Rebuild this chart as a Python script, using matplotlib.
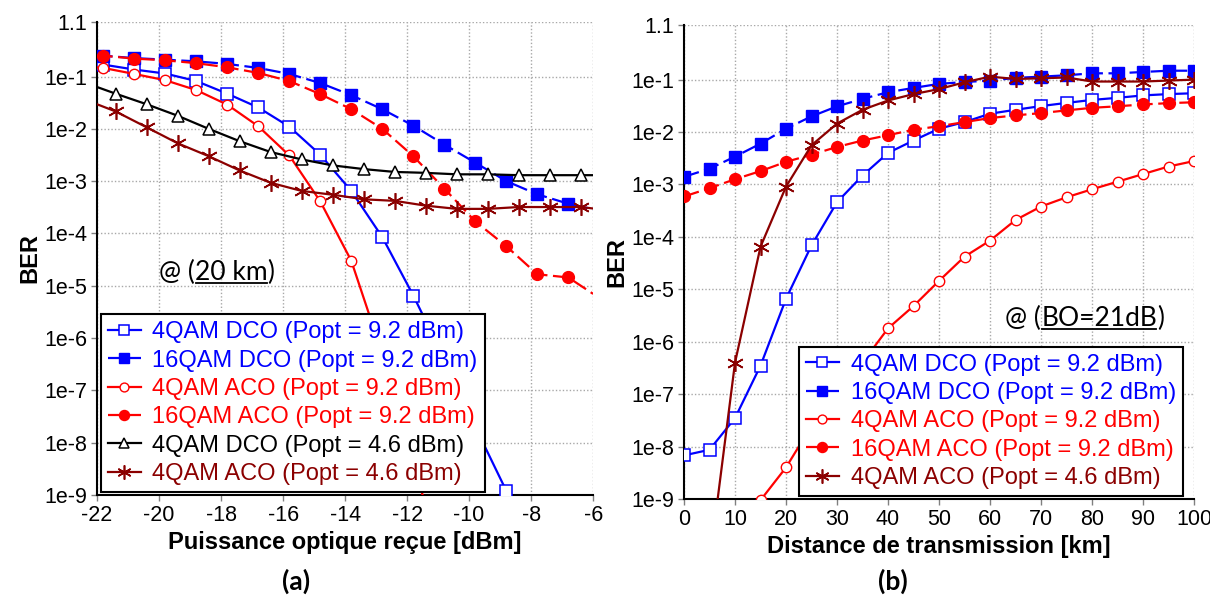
import matplotlib
matplotlib.use("Agg")
import matplotlib.pyplot as plt
from matplotlib.ticker import FixedLocator, FixedFormatter, NullLocator
from matplotlib.lines import Line2D

plt.rcParams['font.family'] = ['Liberation Sans', 'DejaVu Sans']

# ---------------- data : panel (a) ----------------
x_a_92 = [-22, -21.8, -20.8, -19.8, -18.8, -17.8, -16.8, -15.8, -14.8, -13.8,
          -12.8, -11.8, -10.8, -9.8, -8.8, -7.8, -6.8, -6]
y_a_16dco = [0.25, 0.25, 0.225, 0.21, 0.195, 0.174, 0.146, 0.112, 0.075, 0.044,
             0.0237, 0.0115, 0.005, 2.25e-3, 1.0e-3, 5.6e-4, 3.7e-4, 2.9e-4]
y_a_16aco = [0.25, 0.25, 0.22, 0.204, 0.18, 0.15, 0.117, 0.082, 0.046, 0.0237,
             0.01, 3.0e-3, 7.2e-4, 1.7e-4, 5.7e-5, 1.66e-5, 1.44e-5, 7e-6]
x_a_4dco = [-22, -21.8, -20.8, -19.8, -18.8, -17.8, -16.8, -15.8, -14.8, -13.8,
            -12.8, -11.8, -10.8, -9.8, -8.8, -7.8]
y_a_4dco = [0.17, 0.169, 0.136, 0.114, 0.082, 0.047, 0.0256, 0.011, 3.2e-3, 6.5e-4,
            8.5e-5, 6.5e-6, 4e-7, 2e-8, 1.2e-9, 8e-11]
x_a_4aco = [-22, -21.8, -20.8, -19.8, -18.8, -17.8, -16.8, -15.8, -14.8, -13.8,
            -12.8, -11.8, -10.8]
y_a_4aco = [0.15, 0.146, 0.112, 0.085, 0.055, 0.029, 0.0112, 3.1e-3, 4.1e-4, 3.0e-5,
            5e-7, 4e-9, 4e-11]
x_a_46 = [-22, -21.4, -20.4, -19.4, -18.4, -17.4, -16.4, -15.4, -14.4, -13.4,
          -12.4, -11.4, -10.4, -9.4, -8.4, -7.4, -6.4, -6]
y_a_4dco46 = [0.063, 0.047, 0.0295, 0.0178, 0.01, 5.8e-3, 3.6e-3, 2.6e-3, 2.0e-3, 1.7e-3,
              1.5e-3, 1.44e-3, 1.35e-3, 1.35e-3, 1.3e-3, 1.3e-3, 1.3e-3, 1.3e-3]
y_a_4aco46 = [0.0295, 0.0215, 0.0107, 5.3e-3, 3.0e-3, 1.6e-3, 9.3e-4, 6.5e-4, 5.5e-4, 4.5e-4,
              4.2e-4, 3.4e-4, 2.95e-4, 2.95e-4, 3.2e-4, 3.2e-4, 3.2e-4, 3.0e-4]
a_curve_ends = (-22, -6)

# ---------------- data : panel (b) ----------------
x_b = [0, 5, 10, 15, 20, 25, 30, 35, 40, 45, 50, 55, 60, 65, 70, 75, 80, 85, 90, 95, 100]
y_b_4dco = [6.8e-9, 8.7e-9, 3.5e-8, 3.5e-7, 6.6e-6, 6.9e-5, 4.6e-4, 1.48e-3, 4.0e-3, 6.9e-3,
            0.0116, 0.0155, 0.0224, 0.0266, 0.0313, 0.036, 0.041, 0.045, 0.050, 0.053, 0.055]
y_b_16dco = [1.4e-3, 2.0e-3, 3.4e-3, 6.0e-3, 0.0116, 0.0199, 0.0309, 0.043, 0.0575, 0.0695,
             0.083, 0.090, 0.096, 0.108, 0.114, 0.121, 0.132, 0.132, 0.140, 0.148, 0.148]
y_b_16aco = [5.9e-4, 8.5e-4, 1.26e-3, 1.8e-3, 2.7e-3, 3.7e-3, 5.2e-3, 6.9e-3, 8.7e-3, 0.0111,
             0.0129, 0.0155, 0.0185, 0.0208, 0.023, 0.0259, 0.029, 0.031, 0.0336, 0.0356, 0.037]
x_b_4aco = [10, 15, 20, 25, 30, 35, 40, 45, 50, 55, 60, 65, 70, 75, 80, 85, 90, 95, 100]
y_b_4aco = [2.5e-10, 9.5e-10, 4.0e-9, 2.5e-8, 1.1e-7, 4e-7, 1.8e-6, 4.8e-6, 1.45e-5, 4.2e-5,
            8.5e-5, 2.1e-4, 3.8e-4, 5.7e-4, 8.1e-4, 1.13e-3, 1.58e-3, 2.2e-3, 2.8e-3]
x_b_46 = [5, 10, 15, 20, 25, 30, 35, 40, 45, 50, 55, 60, 65, 70, 75, 80, 85, 90, 95, 100]
y_b_4aco46 = [6e-11, 4.0e-7, 6.5e-5, 9.1e-4, 5.6e-3, 0.0145, 0.0266, 0.040, 0.053, 0.066,
              0.089, 0.114, 0.103, 0.106, 0.11, 0.092, 0.092, 0.092, 0.096, 0.1]

labels = ["4QAM DCO (Popt = 9.2 dBm)", "16QAM DCO (Popt = 9.2 dBm)",
          "4QAM ACO (Popt = 9.2 dBm)", "16QAM ACO (Popt = 9.2 dBm)",
          "4QAM DCO (Popt = 4.6 dBm)", "4QAM ACO (Popt = 4.6 dBm)"]

y_ticks = [1.1, 1e-1, 1e-2, 1e-3, 1e-4, 1e-5, 1e-6, 1e-7, 1e-8, 1e-9]
y_ticklabels = ["1.1", "1e-1", "1e-2", "1e-3", "1e-4", "1e-5", "1e-6", "1e-7", "1e-8", "1e-9"]
x_ticks_a = [-22, -20, -18, -16, -14, -12, -10, -8, -6]
x_ticks_b = [0, 10, 20, 30, 40, 50, 60, 70, 80, 90, 100]

BLUE = '#0000FF'
RED = '#FF0000'
DRED = '#8B0000'
BLACK = '#000000'
DASH = (7, 2.5)

styles = [
    dict(color=BLUE, marker='s', mfc='white', ms=8, mew=1.1, ls='-'),
    dict(color=BLUE, marker='s', mfc=BLUE, ms=9, mew=1.0, ls=(0, DASH)),
    dict(color=RED, marker='o', mfc='white', ms=7.5, mew=1.0, ls='-'),
    dict(color=RED, marker='o', mfc=RED, ms=8.5, mew=1.0, ls=(0, DASH)),
    dict(color=BLACK, marker='^', mfc='white', ms=8.5, mew=1.1, ls='-'),
    dict(color=DRED, marker=(6, 2, 0), mfc=DRED, ms=12, mew=1.2, ls='-'),
]

fig = plt.figure(figsize=(12.1, 5.99), dpi=100)
axA = fig.add_axes([0.0802, 0.1736, 0.410, 0.7896])
axB = fig.add_axes([0.5653, 0.1669, 0.4215, 0.7913])


def marks(xs, ends):
    return [i for i, v in enumerate(xs) if v not in ends]


def plot_series(ax, xs, ys, idx, ends=()):
    st = dict(styles[idx])
    ls = st.pop('ls')
    ln, = ax.plot(xs, ys, linestyle=ls, lw=1.6, markevery=marks(xs, ends),
                  label=labels[idx], zorder=3 + 0.1 * idx, **st)
    return ln


def style_axes(ax, xticks, xlim, xlabel):
    ax.set_yscale('log')
    ax.set_ylim(1e-9, 1.1)
    ax.set_xlim(*xlim)
    ax.yaxis.set_major_locator(FixedLocator(y_ticks))
    ax.yaxis.set_major_formatter(FixedFormatter(y_ticklabels))
    ax.yaxis.set_minor_locator(NullLocator())
    ax.set_xticks(xticks)
    ax.set_xticklabels([str(t) for t in xticks])
    ax.grid(True, which='major', color='#a8a8a8', linestyle=(0, (1, 1.5)), lw=1.0)
    for s in ('top', 'right'):
        ax.spines[s].set_visible(False)
    for s in ('left', 'bottom'):
        ax.spines[s].set_linewidth(1.5)
        ax.spines[s].set_color('black')
    ax.tick_params(axis='both', direction='out', length=4, width=1, color='#808080',
                   labelsize=15.5, pad=3)
    ax.set_xlabel(xlabel, fontsize=17, fontweight='bold', labelpad=4)
    ax.set_ylabel('BER', fontsize=17, fontweight='bold', labelpad=2)


# panel (a)
lines_a = [
    plot_series(axA, x_a_4dco, y_a_4dco, 0, a_curve_ends),
    plot_series(axA, x_a_92, y_a_16dco, 1, a_curve_ends),
    plot_series(axA, x_a_4aco, y_a_4aco, 2, a_curve_ends),
    plot_series(axA, x_a_92, y_a_16aco, 3, a_curve_ends),
    plot_series(axA, x_a_46, y_a_4dco46, 4, a_curve_ends),
    plot_series(axA, x_a_46, y_a_4aco46, 5, a_curve_ends),
]
style_axes(axA, x_ticks_a, (-22, -6), 'Puissance optique reçue [dBm]')

# panel (b)
lines_b = [
    plot_series(axB, x_b, y_b_4dco, 0),
    plot_series(axB, x_b, y_b_16dco, 1),
    plot_series(axB, x_b_4aco, y_b_4aco, 2),
    plot_series(axB, x_b, y_b_16aco, 3),
    plot_series(axB, x_b_46, y_b_4aco46, 5),
]
style_axes(axB, x_ticks_b, (0, 100), 'Distance de transmission [km]')


def make_legend(ax, handles, anchor):
    leg = ax.legend(handles=handles, loc='lower left', bbox_to_anchor=anchor,
                    borderaxespad=0, fontsize=17, frameon=True, fancybox=False,
                    edgecolor='black', framealpha=1, handlelength=1.4,
                    handletextpad=0.5, labelspacing=0.27, borderpad=0.3,
                    markerscale=0.85)
    leg.get_frame().set_linewidth(1.5)
    for txt, h in zip(leg.get_texts(), handles):
        txt.set_color(h.get_color())
    leg.set_zorder(10)
    return leg


make_legend(axA, lines_a, (0.007, 0.006))
make_legend(axB, lines_b, (0.225, 0.006))

# panel letters
fig.text(0.245, 0.030, '(a)', fontsize=19, fontweight='bold', family=['Lato', 'DejaVu Sans'],
         ha='center', va='center')
fig.text(0.738, 0.030, '(b)', fontsize=19, fontweight='bold', family=['Lato', 'DejaVu Sans'],
         ha='center', va='center')


def underlined_note(ax, x, y, pre, mid, post, size=19):
    kw = dict(fontsize=size, family=['Lato', 'DejaVu Sans'], va='baseline', ha='left',
              transform=ax.transAxes, zorder=12)
    t1 = ax.text(x, y, pre, **kw)
    fig.canvas.draw()
    r = fig.canvas.get_renderer()
    inv = ax.transAxes.inverted()
    bb1 = t1.get_window_extent(r)
    x2 = inv.transform((bb1.x1, 0))[0]
    t2 = ax.text(x2, y, mid, **kw)
    fig.canvas.draw()
    bb2 = t2.get_window_extent(r)
    x3 = inv.transform((bb2.x1, 0))[0]
    ax.text(x3, y, post, **kw)
    base = ax.transAxes.transform((0, y))[1]
    p0 = inv.transform((bb2.x0 + 1, base - 3))
    p1 = inv.transform((bb2.x1 - 1, base - 3))
    ax.add_line(Line2D([p0[0], p1[0]], [p0[1], p1[1]], transform=ax.transAxes,
                       color='black', lw=1.3, zorder=12, clip_on=False))


underlined_note(axA, 0.125, 0.455, '@ (', '20 km', ')')
underlined_note(axB, 0.63, 0.365, '@ (', 'BO=21dB', ')')

fig.savefig('out.png', dpi=100)
